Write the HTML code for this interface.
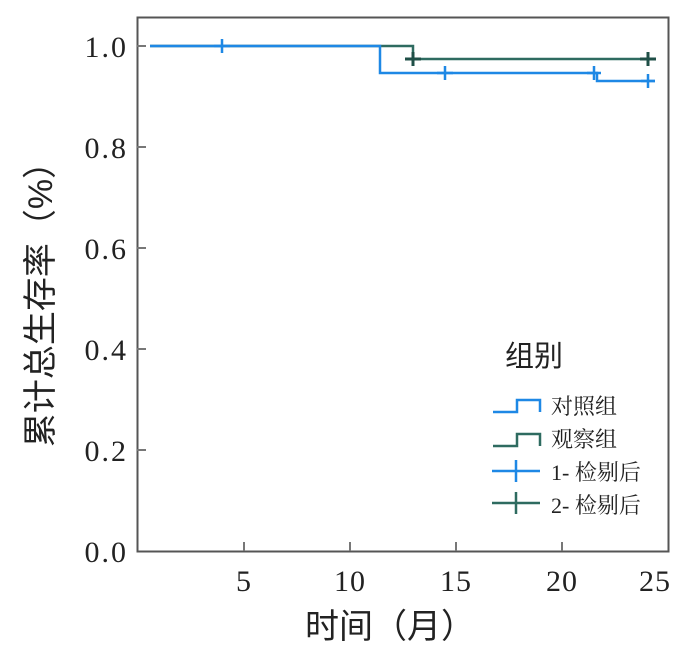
<!DOCTYPE html>
<html><head><meta charset="utf-8"><style>
body{margin:0;background:#fff}
text{font-family:"Liberation Serif","Noto Serif CJK SC",serif;fill:#222}
.c{font-family:"Liberation Sans","Noto Sans CJK SC",sans-serif}
</style></head><body>
<svg width="691" height="650" xmlns="http://www.w3.org/2000/svg">
<rect x="137.5" y="17.5" width="531" height="534" fill="none" stroke="#555" stroke-width="2"/>
<g stroke="#777" stroke-width="2">
<line x1="244" y1="551" x2="244" y2="542"/><line x1="350" y1="551" x2="350" y2="542"/>
<line x1="456" y1="551" x2="456" y2="542"/><line x1="562" y1="551" x2="562" y2="542"/>
<line x1="137" y1="46" x2="146" y2="46"/><line x1="137" y1="147" x2="146" y2="147"/>
<line x1="137" y1="248" x2="146" y2="248"/><line x1="137" y1="349" x2="146" y2="349"/>
<line x1="137" y1="450" x2="146" y2="450"/>
</g>
<g font-size="30" text-anchor="end" letter-spacing="2">
<text x="128" y="57">1.0</text><text x="128" y="158">0.8</text><text x="128" y="259">0.6</text>
<text x="128" y="360">0.4</text><text x="128" y="461">0.2</text><text x="128" y="562">0.0</text>
</g>
<g font-size="30" text-anchor="middle" letter-spacing="1">
<text x="244" y="591">5</text><text x="350" y="591">10</text><text x="456" y="591">15</text>
<text x="562" y="591">20</text><text x="655" y="591">25</text>
</g>
<text x="390" y="638" font-size="34" text-anchor="middle" class="c">时间（月）</text>
<text transform="translate(52,296) rotate(-90)" font-size="34" text-anchor="middle" class="c">累计总生存率（%）</text>
<polyline fill="none" stroke="#2e6b60" stroke-width="2.5" points="150,46 413,46 413,59 655,59"/>
<polyline fill="none" stroke="#1e88e5" stroke-width="2.5" points="150,46 380,46 380,73 597,73 597,81 655,81"/>
<g stroke="#1e88e5" stroke-width="2.5">
<path d="M214 46h16M222 39v14M437 73h16M445 66v14M587 73h14M594 66v14M641 81h14M648 74v14"/>
</g>
<g stroke="#1f4f47" stroke-width="3">
<path d="M405 59h16M413 52v14M640 59h16M648 52v14"/>
</g>
<text x="505" y="366" font-size="29" class="c">组别</text>
<polyline fill="none" stroke="#1e88e5" stroke-width="2.5" points="493,412 517,412 517,400 540,400 540,412"/>
<polyline fill="none" stroke="#2e6b60" stroke-width="2.5" points="493,446 517,446 517,434 540,434 540,446"/>
<path d="M492 471h48M516 460v22" stroke="#1e88e5" stroke-width="2.5"/>
<path d="M492 503h48M516 492v22" stroke="#2e6b60" stroke-width="2.5"/>
<g font-size="22">
<text x="551" y="414">对照组</text><text x="551" y="447">观察组</text>
<text x="551" y="480">1- 检剔后</text><text x="551" y="513">2- 检剔后</text>
</g>
</svg>
</body></html>
